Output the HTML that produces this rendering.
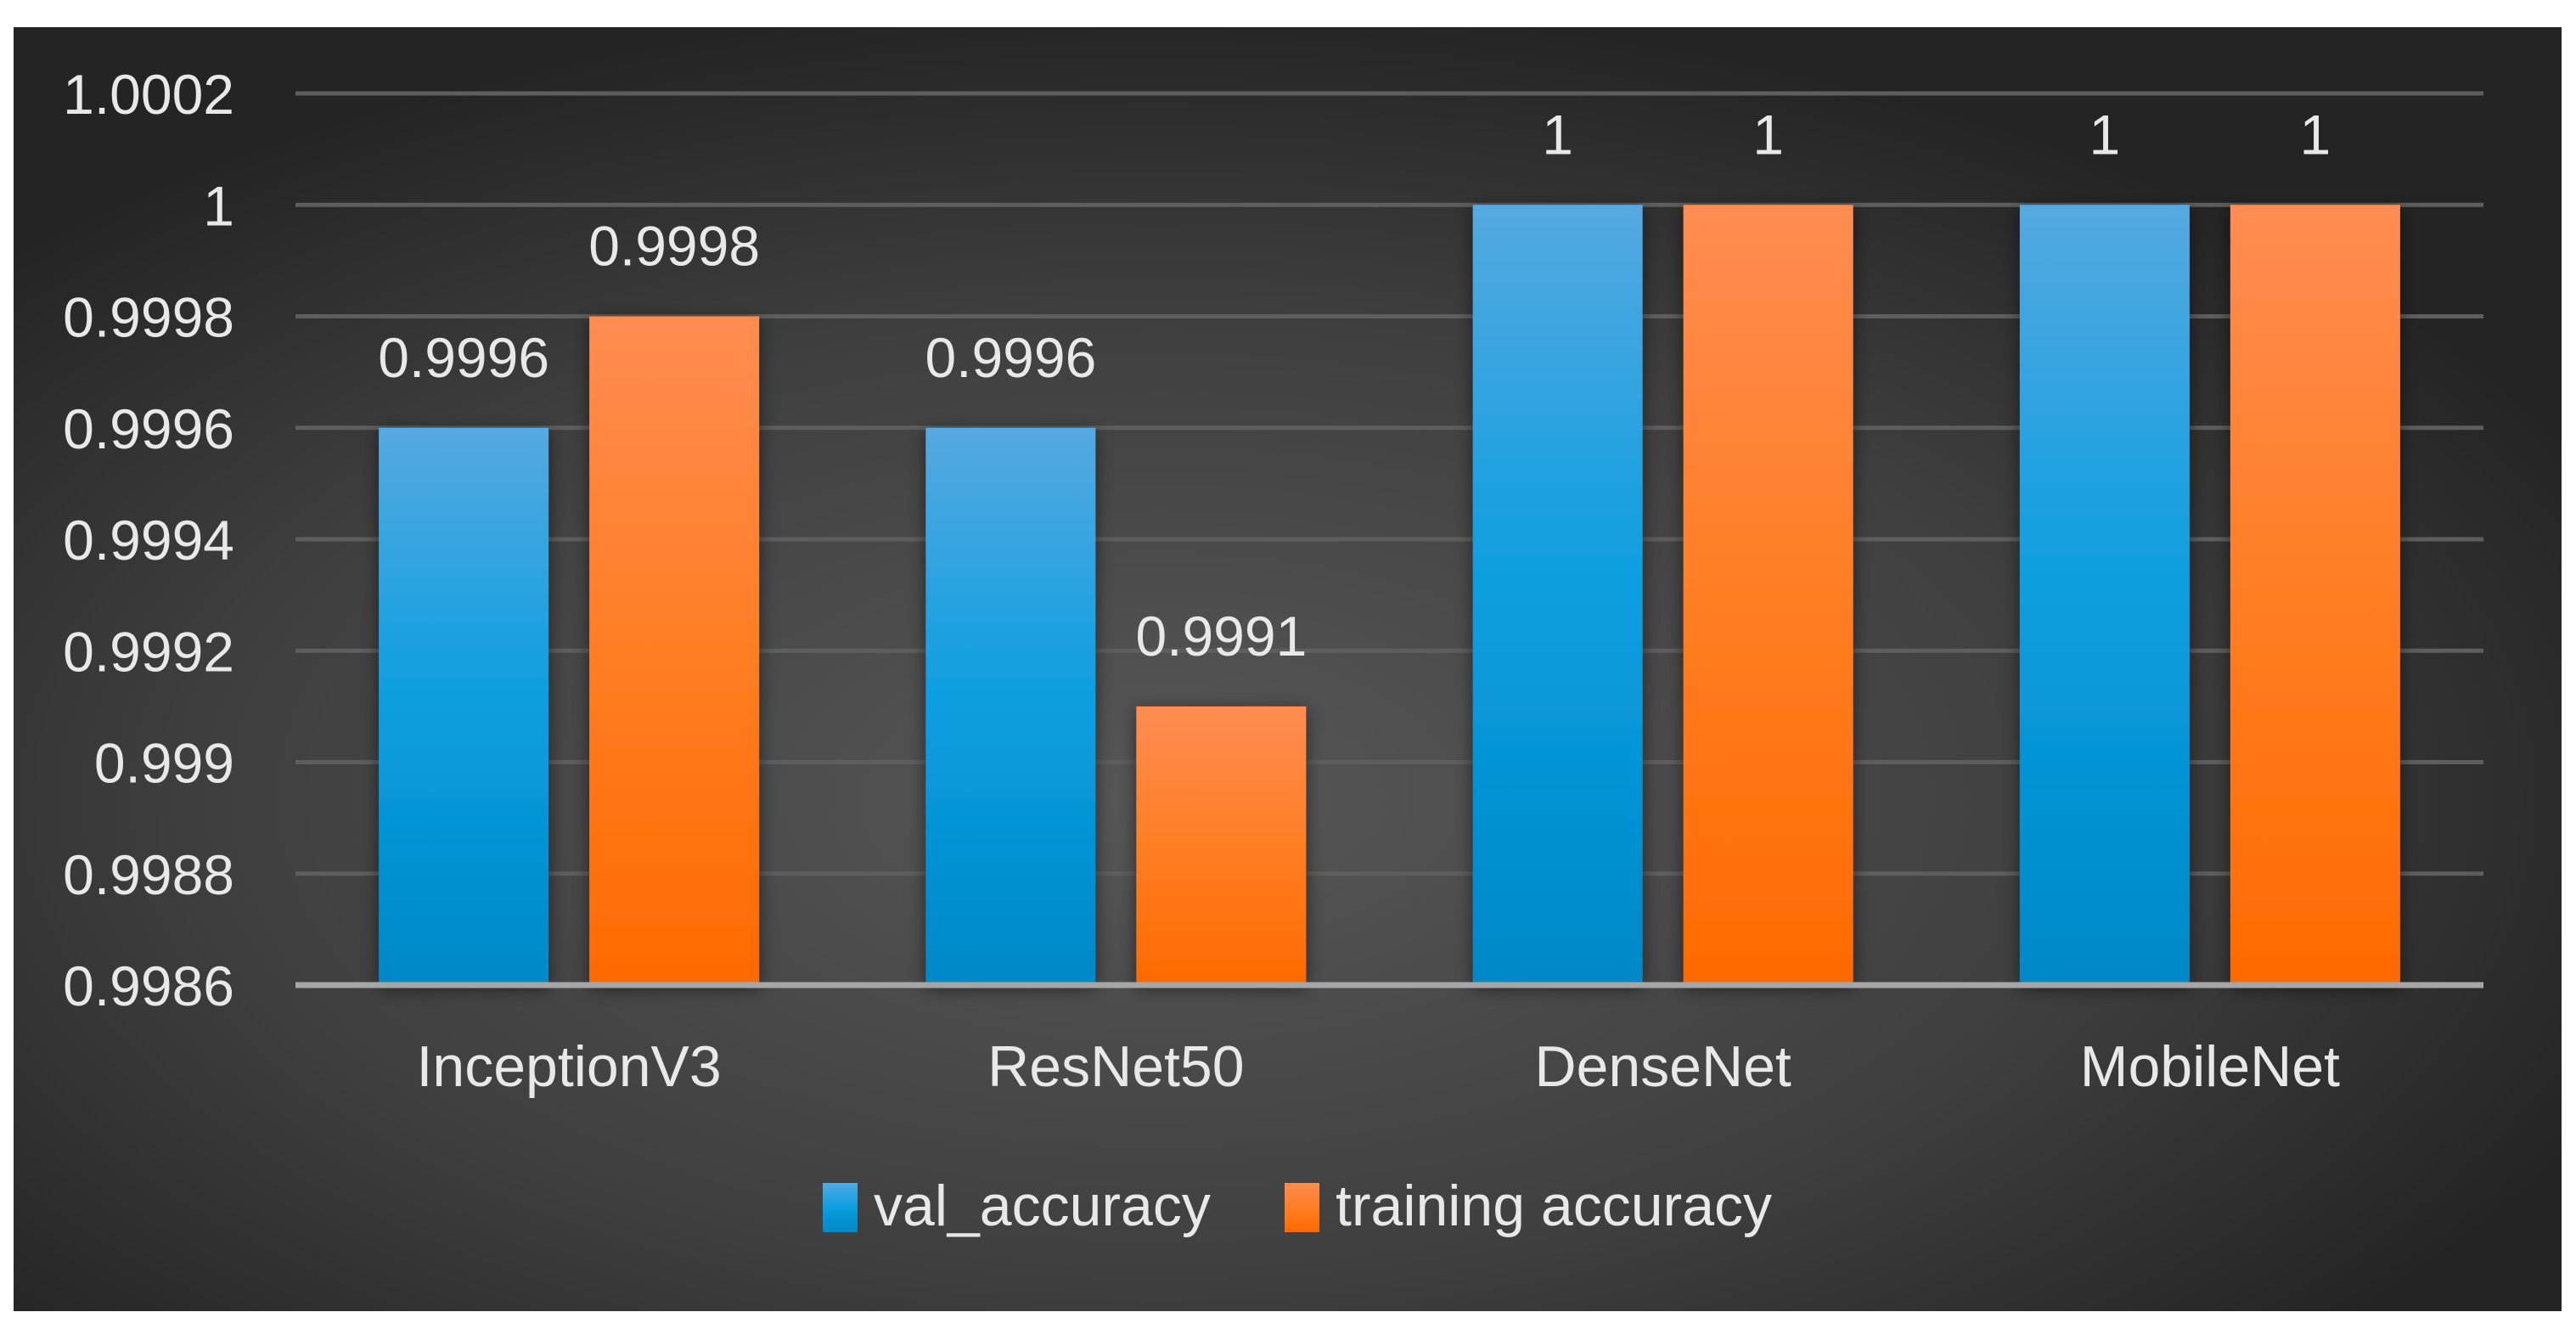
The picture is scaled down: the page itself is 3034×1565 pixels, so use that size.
<!DOCTYPE html>
<html><head><meta charset="utf-8"><style>
html,body{margin:0;padding:0;background:#fff;width:3034px;height:1565px;overflow:hidden}
svg{display:block}
text{font-family:"Liberation Sans",sans-serif;fill:#e8e8e8}
</style></head><body>
<svg id="chart" width="3034" height="1565" viewBox="0 0 3034 1565">
<defs>
<radialGradient id="bg" cx="0.45" cy="0.6" r="0.62">
<stop offset="0" stop-color="#575757"/><stop offset="0.6" stop-color="#3f3f3f"/><stop offset="1" stop-color="#242424"/>
</radialGradient>
<linearGradient id="gb" x1="0" y1="0" x2="0" y2="1"><stop offset="0" stop-color="#55a9e0"/><stop offset="0.5" stop-color="#0a9ee0"/><stop offset="1" stop-color="#0088c8"/></linearGradient>
<linearGradient id="go" x1="0" y1="0" x2="0" y2="1"><stop offset="0" stop-color="#ff8c52"/><stop offset="0.5" stop-color="#ff7e24"/><stop offset="1" stop-color="#ff6a00"/></linearGradient>
<filter id="sh" x="-20%" y="-5%" width="140%" height="115%"><feDropShadow dx="0" dy="4" stdDeviation="10" flood-color="#000" flood-opacity="0.5"/></filter>
</defs>
<rect x="16" y="32" width="3001" height="1512" fill="url(#bg)"/>
<g id="grid"></g>
<g id="bars"></g>
<line x1="348" y1="1160" x2="2925" y2="1160" stroke="#a6a6a6" stroke-width="7"/>
<g id="labels"></g>
<g>
<rect x="969" y="1393" width="41" height="58" fill="url(#gb)"/>
<text x="1029" y="1443" font-size="68">val_accuracy</text>
<rect x="1513" y="1393" width="41" height="58" fill="url(#go)"/>
<text x="1573" y="1443" font-size="68">training accuracy</text>
</g>
</svg>
<script>
const categories = ["InceptionV3","ResNet50","DenseNet","MobileNet"];
const valAccuracy = [0.9996, 0.9996, 1, 1];
const trainAccuracy = [0.9998, 0.9991, 1, 1];
const ticks = [0.9986,0.9988,0.999,0.9992,0.9994,0.9996,0.9998,1,1.0002];
const tickLabels = ["0.9986","0.9988","0.999","0.9992","0.9994","0.9996","0.9998","1","1.0002"];
const valLabels = ["0.9996","0.9996","1","1"];
const trainLabels = ["0.9998","0.9991","1","1"];

const NS="http://www.w3.org/2000/svg";
const X0=348,X1=2925,Y0=1160,Y1=110,VMIN=0.9986,VMAX=1.0002;
function y(v){return Y0-(v-VMIN)/(VMAX-VMIN)*(Y0-Y1);}
function cx(i){return X0+(X1-X0)/categories.length*(i+0.5);}
function mk(tag,attrs,parent){const e=document.createElementNS(NS,tag);for(const k in attrs)e.setAttribute(k,attrs[k]);parent.appendChild(e);return e;}
const grid=document.getElementById('grid'),bars=document.getElementById('bars'),labels=document.getElementById('labels');
ticks.forEach((t,i)=>{
  if(i>0){const l=mk('line',{x1:X0,x2:X1,y1:y(t),y2:y(t),stroke:'#5e5e5e','stroke-width':5},grid);
  
  }
  const tx=mk('text',{x:276,y:y(t)+24,'font-size':66,'text-anchor':'end'},labels);
  tx.textContent=tickLabels[i];
  
  
});
const BW=200,OFF=124;
categories.forEach((c,i)=>{
  const series=[[valAccuracy[i],'url(#gb)',-OFF,valLabels[i],'bar-val-accuracy'],[trainAccuracy[i],'url(#go)',OFF,trainLabels[i],'bar-training-accuracy']];
  series.forEach(s=>{
    const top=y(s[0]);
    const r=mk('rect',{x:cx(i)+s[2]-BW/2,y:top,width:BW,height:Y0-top,fill:s[1],filter:'url(#sh)'},bars);
    
    
    const t=mk('text',{x:cx(i)+s[2],y:top-60,'font-size':66,'text-anchor':'middle'},labels);
    t.textContent=s[3];
    
    
  });
  const ct=mk('text',{x:cx(i),y:1279,'font-size':68,'text-anchor':'middle'},labels);
  ct.textContent=c;
  
  
});
</script>
</body></html>
